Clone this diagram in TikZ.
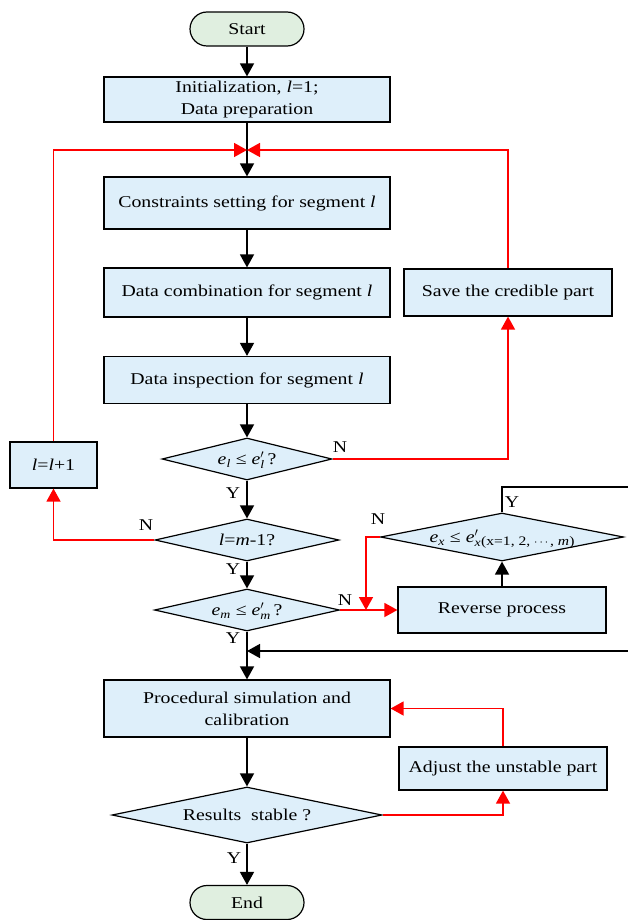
\documentclass[tikz,border=0pt]{standalone}
\usepackage{amsmath}
\usepackage{fontspec}
\setmainfont[FakeStretch=1.2]{Liberation Serif}
\usetikzlibrary{arrows.meta,shapes.geometric}
\definecolor{boxblue}{RGB}{222,239,250}
\definecolor{termgreen}{RGB}{224,239,224}
\newcommand{\dtext}[1]{\makebox[0pt]{\raisebox{-.33em}[0pt][0pt]{#1}}}
\begin{document}
\begin{tikzpicture}[x=1pt,y=-1pt,
  every node/.style={font=\fontsize{16.5}{22}\selectfont},
  box/.style={draw=black, line width=1.2pt, fill=boxblue, inner sep=0pt, align=center},
  term/.style={draw=black, line width=1.2pt, fill=termgreen, rounded corners=17pt, inner sep=0pt, minimum width=114pt, minimum height=34pt},
  dia/.style={diamond, draw=black, line width=1.2pt, fill=boxblue, inner sep=0pt},
  arr/.style={-{Triangle[length=13pt,width=14pt]}, line width=1.5pt, draw=black},
  redarr/.style={-{Triangle[length=13pt,width=14pt]}, line width=1.5pt, draw=red},
  plain/.style={line width=1.5pt, draw=black},
  lbl/.style={inner sep=0pt}]
\useasboundingbox (0,0) rectangle (628,920);
% nodes
\node[term] (start) at (247,29) {Start};
\node[box, minimum width=286pt, minimum height=45pt] (init) at (247,99.5) {Initialization, \textit{l}=1;\\Data preparation};
\node[box, minimum width=286pt, minimum height=52pt] (cons) at (247,203) {Constraints setting for segment \textit{l}};
\node[box, minimum width=286pt, minimum height=49pt] (comb) at (247,292.5) {Data combination for segment \textit{l}};
\node[box, minimum width=286pt, minimum height=47pt] (insp) at (247,380) {Data inspection for segment \textit{l}};
\node[box, minimum width=208pt, minimum height=47pt] (save) at (508,292.5) {Save the credible part};
\node[dia, minimum width=170pt, minimum height=42pt] (d1) at (247,459) {\dtext{\textit{e}$_{\textit{l}}$ ≤ \textit{e}$'_{\textit{l}}$\,?}};
\node[box, minimum width=87pt, minimum height=46pt] (lplus) at (53.5,465) {\textit{l}=\textit{l}+1};
\node[dia, minimum width=184pt, minimum height=42pt] (d2) at (247,540) {\dtext{\textit{l}=\textit{m}-1?}};
\node[dia, minimum width=185pt, minimum height=42pt] (d3) at (247,610) {\dtext{\textit{e}$_{\textit{m}}$ ≤ \textit{e}$'_{\textit{m}}$\,?}};
\node[box, minimum width=208pt, minimum height=46pt] (rev) at (502,610) {Reverse process};
\node[dia, minimum width=243pt, minimum height=48pt] (dx) at (502,537) {\dtext{\textit{e}$_{\textit{x}}$ ≤ \textit{e}$'_{\textit{x}}$\raisebox{-0.35ex}{\fontsize{13}{15}\selectfont(x=1, 2, $\cdots$, \textit{m})}}};
\node[box, minimum width=286pt, minimum height=57pt] (proc) at (247,708.5) {Procedural simulation and\\calibration};
\node[box, minimum width=208pt, minimum height=43pt] (adj) at (503,768.5) {Adjust the unstable part};
\node[dia, minimum width=270pt, minimum height=56pt] (d5) at (247,815) {\dtext{Results\ \ stable ?}};
\node[term] (end) at (247,902.5) {End};
% coordinates
\coordinate (j) at (247,150);
\coordinate (m) at (366,610);
\coordinate (yr1) at (628,487);
\coordinate (yr2) at (628,651);
\coordinate (j2) at (247,651);
% main flow
\draw[arr] (start) -- (init);
\draw[arr] (init) -- (cons);
\draw[arr] (cons) -- (comb);
\draw[arr] (comb) -- (insp);
\draw[arr] (insp) -- (d1);
\draw[arr] (d1) -- (d2);
\draw[arr] (d2) -- (d3);
\draw[arr] (d3) -- (proc);
\draw[arr] (proc) -- (d5);
\draw[arr] (d5) -- (end);
% red loops
\draw[redarr] (lplus.north) |- (j);
\draw[redarr] (save.north) |- (j);
\draw[redarr] (d1.east) -| (save.south);
\draw[redarr] (d2.west) -| (lplus.south);
\draw[redarr] (d3.east) -- (rev.west);
\draw[redarr] (dx.west) -| (m);
\draw[redarr] (d5.east) -| (adj.south);
\draw[redarr] (adj.north) |- (proc.east);
% reverse process loop
\draw[arr] (rev) -- (dx);
\draw[plain] (dx.north) |- (yr1);
\draw[arr] (yr2) -- (j2);
% labels
\node[lbl] (n1) at (340,447) {N};
\node[lbl] (y1) at (233,493) {Y};
\node[lbl] (n2) at (146,525) {N};
\node[lbl] (y2) at (233,569) {Y};
\node[lbl] (n3) at (345,600) {N};
\node[lbl] (y3) at (233,638) {Y};
\node[lbl] (n4) at (378,519) {N};
\node[lbl] (y4) at (512,502) {Y};
\node[lbl] (y5) at (234,858) {Y};
\end{tikzpicture}
\end{document}
